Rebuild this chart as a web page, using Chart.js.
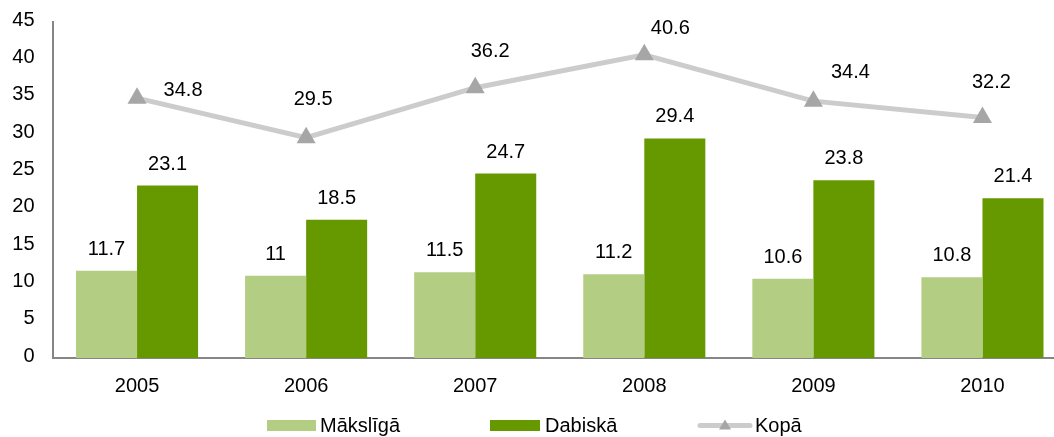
<!DOCTYPE html>
<html><head><meta charset="utf-8">
<script src="https://cdn.jsdelivr.net/npm/chart.js@4/dist/chart.umd.min.js"></script>
<style>html,body{margin:0;padding:0;background:#fff;overflow:hidden}#wrap{width:1054px;height:437px;overflow:hidden;position:relative}canvas{position:absolute;left:0;top:0}</style>
</head><body><div id="wrap"><canvas id="c" width="1078" height="437" style="width:1078px;height:437px"></canvas></div>
<script>
const categories = ['2005','2006','2007','2008','2009','2010'];
const makslīgā = [11.7, 11, 11.5, 11.2, 10.6, 10.8];
const dabiskā = [23.1, 18.5, 24.7, 29.4, 23.8, 21.4];
const kopā = [34.8, 29.5, 36.2, 40.6, 34.4, 32.2];
const seriesNames = ['Mākslīgā', 'Dabiskā', 'Kopā'];
const yTicks = [0,5,10,15,20,25,30,35,40,45];
// label placement for the Kopā labels (dx = centre offset, dy = baseline offset, px)
const kopaLabelDx = [46, 7, 15, 26, 37, 9];
const kopaLabelDy = [-2, -33, -31, -21, -23, -30];

const FONT = '"Liberation Sans", Arial, sans-serif';
const LIGHT = '#b3cd83', DARK = '#669900', LINE = '#cccccc', MARK = '#a6a6a6';

const labelsPlugin = {
  id: 'labels',
  afterDatasetsDraw(chart) {
    const ctx = chart.ctx;
    ctx.save();
    ctx.font = '20px ' + FONT;
    ctx.fillStyle = '#000';
    ctx.textAlign = 'center';
    ctx.textBaseline = 'alphabetic';
    chart.data.datasets.forEach((ds, i) => {
      const meta = chart.getDatasetMeta(i);
      meta.data.forEach((el, j) => {
        const v = ds.data[j];
        if (ds.type === 'line') {
          ctx.fillText(String(v), el.x + kopaLabelDx[j], el.y + kopaLabelDy[j]);
        } else {
          ctx.fillText(String(v), el.x, el.y - 16);
        }
      });
    });
    ctx.restore();
  }
};

const legendPlugin = {
  id: 'customLegend',
  afterDraw(chart) {
    const ctx = chart.ctx;
    ctx.save();
    ctx.font = '20px ' + FONT;
    ctx.textBaseline = 'middle';
    const y = 425.5;
    ctx.fillStyle = LIGHT; ctx.fillRect(267, y - 5.5, 49, 11);
    ctx.fillStyle = '#000'; ctx.fillText(seriesNames[0], 320, y + 1);
    ctx.fillStyle = DARK; ctx.fillRect(490, y - 5.5, 50, 11);
    ctx.fillStyle = '#000'; ctx.fillText(seriesNames[1], 545, y + 1);
    ctx.strokeStyle = LINE; ctx.lineWidth = 5; ctx.lineCap = 'round';
    ctx.beginPath(); ctx.moveTo(700, y); ctx.lineTo(750, y); ctx.stroke();
    ctx.fillStyle = MARK;
    ctx.beginPath(); ctx.moveTo(725, y - 6); ctx.lineTo(731, y + 4); ctx.lineTo(719, y + 4); ctx.closePath(); ctx.fill();
    ctx.fillStyle = '#000'; ctx.fillText(seriesNames[2], 755, y + 1);
    ctx.restore();
  }
};

new Chart(document.getElementById('c'), {
  data: {
    labels: categories,
    datasets: [
      { type: 'line', label: seriesNames[2], data: kopā, borderColor: LINE, borderWidth: 5,
        pointStyle: 'triangle', pointRadius: 11, pointBackgroundColor: MARK, pointBorderColor: MARK,
        pointBorderWidth: 0, tension: 0, order: 0, clip: false },
      { type: 'bar', label: seriesNames[0], data: makslīgā, backgroundColor: LIGHT, order: 1,
        barPercentage: 1, categoryPercentage: 0.722 },
      { type: 'bar', label: seriesNames[1], data: dabiskā, backgroundColor: DARK, order: 1,
        barPercentage: 1, categoryPercentage: 0.722 }
    ]
  },
  options: {
    responsive: false, animation: false, devicePixelRatio: 1,
    layout: { padding: { left: 0, right: 0, top: 22, bottom: 23 } },
    plugins: { legend: { display: false }, tooltip: { enabled: false } },
    scales: {
      x: {
        grid: { display: false, drawTicks: false },
        border: { color: '#868686', width: 2 },
        ticks: { color: '#000', font: { family: FONT, size: 20 }, padding: 16, maxRotation: 0 }
      },
      y: {
        min: 0, max: 45,
        afterBuildTicks(axis) { axis.ticks = yTicks.map(v => ({ value: v })); },
        afterFit(axis) { axis.width = 52.5; axis.paddingTop = 0; axis.paddingBottom = 0; },
        grid: { display: false, drawTicks: false },
        border: { color: '#868686', width: 2 },
        ticks: { color: '#000', font: { family: FONT, size: 20 }, padding: 18, labelOffset: -2 }
      }
    }
  },
  plugins: [labelsPlugin, legendPlugin]
});
</script></body></html>
